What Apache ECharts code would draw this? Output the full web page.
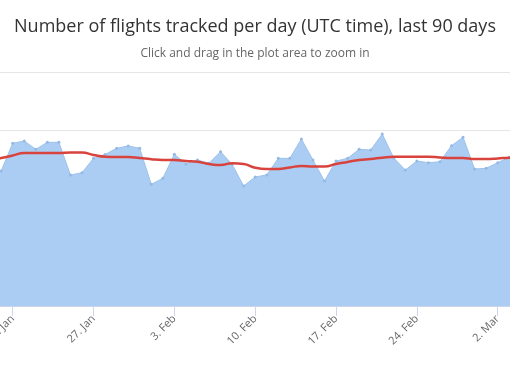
<!DOCTYPE html>
<html>
<head>
<meta charset="utf-8">
<script src="https://cdn.jsdelivr.net/npm/echarts@6/dist/echarts.min.js"></script>
<style>
html,body{margin:0;padding:0;background:#fff;}
#chart{width:510px;height:367px;}
</style>
</head>
<body>
<div id="chart"></div>
<script>
// Dates (2020) visible in the cropped window, Jan 18 – Mar 4
const categories = [
  "18. Jan","19. Jan","20. Jan","21. Jan","22. Jan","23. Jan","24. Jan","25. Jan","26. Jan",
  "27. Jan","28. Jan","29. Jan","30. Jan","31. Jan","1. Feb","2. Feb",
  "3. Feb","4. Feb","5. Feb","6. Feb","7. Feb","8. Feb","9. Feb",
  "10. Feb","11. Feb","12. Feb","13. Feb","14. Feb","15. Feb","16. Feb",
  "17. Feb","18. Feb","19. Feb","20. Feb","21. Feb","22. Feb","23. Feb",
  "24. Feb","25. Feb","26. Feb","27. Feb","28. Feb","29. Feb","1. Mar",
  "2. Mar","3. Mar","4. Mar"
];
// Daily flights tracked
const flights = [
  111100,115400,139100,141000,133900,139900,139900,112000,113900,
  126200,129500,134800,136800,134800,104000,109100,
  129700,121400,124800,122000,131900,121100,102600,
  110300,112000,126200,126200,142700,124800,106800,
  123900,126200,133900,133300,147000,126500,116200,
  123900,122500,123300,137000,144200,117100,117700,
  122500,127100,129100
];
// 7-day moving average
const movingAvg = [
  124800,126500,128600,130800,130800,130800,130800,131200,131200,
  129100,127600,127400,127400,126500,125400,124800,
  124800,123900,123300,121400,120500,122000,121400,
  118200,117100,117100,118400,119700,119200,119200,
  121400,123100,124800,125600,126800,127600,127600,
  127600,127600,126900,126500,126500,125600,125600,
  126100,126800,126900
];
const yTicks = [0, 50000, 100000, 150000, 200000];

const isMonday = (idx) => (idx - 2) % 7 === 0;

const chart = echarts.init(document.getElementById('chart'), null, {renderer: 'canvas'});
chart.setOption({
  animation: false,
  backgroundColor: '#ffffff',
  title: [{
    text: 'Number of flights tracked per day (UTC time), last 90 days',
    left: 'center',
    top: 13,
    textStyle: {fontFamily: '"Open Sans", sans-serif', fontSize: 18, fontWeight: 'normal', color: '#333333'}
  }, {
    text: 'Click and drag in the plot area to zoom in',
    left: 'center',
    top: 43,
    textStyle: {fontFamily: '"Open Sans", sans-serif', fontSize: 12, fontWeight: 'normal', color: '#666666'}
  }],
  grid: {
    left: -10.4,
    right: -10.8,
    top: 72,
    bottom: 61,
    containLabel: false,
    outerBoundsMode: 'none'
  },
  xAxis: {
    type: 'category',
    data: categories,
    boundaryGap: false,
    axisLine: {show: true, lineStyle: {color: '#ccd6eb', width: 1}},
    axisTick: {show: true, length: 10, interval: (i) => isMonday(i), lineStyle: {color: '#ccd6eb'}},
    axisLabel: {
      interval: (i) => isMonday(i),
      rotate: 45,
      margin: 11,
      color: '#666666',
      fontSize: 11,
      fontFamily: '"Open Sans", sans-serif'
    },
    splitLine: {show: false}
  },
  yAxis: {
    type: 'value',
    min: yTicks[0],
    max: yTicks[yTicks.length - 1],
    interval: yTicks[1] - yTicks[0],
    axisLine: {show: false},
    axisTick: {show: false},
    axisLabel: {show: false},
    splitLine: {show: true, lineStyle: {color: '#e6e6e6', width: 1}}
  },
  series: [{
    name: 'Flights',
    type: 'line',
    data: flights,
    symbol: 'circle',
    symbolSize: 3,
    showSymbol: true,
    itemStyle: {color: '#93b9e4'},
    lineStyle: {color: '#9dc2ea', width: 1},
    areaStyle: {color: '#abcdf3', opacity: 1},
    z: 2
  }, {
    name: 'Moving average',
    type: 'line',
    data: movingAvg,
    smooth: true,
    showSymbol: false,
    symbol: 'none',
    lineStyle: {color: '#d9433d', width: 2.5},
    z: 3
  }]
});
</script>
</body>
</html>
